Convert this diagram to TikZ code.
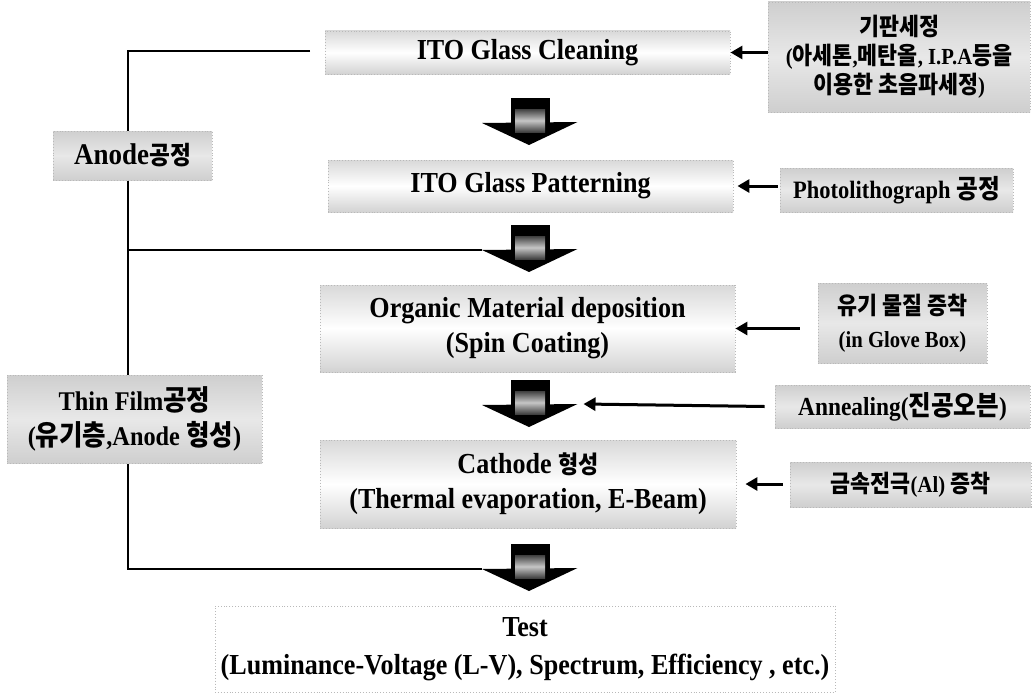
\documentclass[tikz,border=0pt]{standalone}
\usepackage{fontspec}
\usepackage{graphicx}
\setmainfont{Liberation Serif}[FakeStretch=0.9]
\newfontfamily\krfont{Noto Sans CJK KR}[FakeStretch=0.9,Scale=0.84]
\newfontfamily\krfontb{Noto Sans CJK KR}[FakeStretch=0.9,Scale=1.05]
\newcommand\KR[1]{{\krfont\bfseries #1}}
\newcommand\KRb[1]{{\krfontb\bfseries #1}}
\newcommand\setfs[2]{\fontsize{#1}{#2}\selectfont}
\usetikzlibrary{arrows.meta}
\tikzset{
  mainbox/.style={draw=gray!55, dotted, line width=0.9pt, top color=gray!30, bottom color=gray!35, middle color=white,
    align=center, inner sep=0pt, font=\setfs{29}{35}\bfseries},
  sidebox/.style={draw=gray!55, dotted, line width=0.9pt, top color=gray!38, bottom color=gray!38, middle color=gray!18,
    align=center, inner sep=0pt},
  testbox/.style={draw=gray!55, dotted, line width=0.9pt, fill=white, align=center, inner sep=0pt, font=\setfs{29}{38}\bfseries},
  bracket/.style={line width=2pt, black},
  sarr/.style={line width=3pt, black, -{Triangle[length=12pt,width=13pt]}},
  blockarr/.pic={
    \fill[black] (-19.5,0) rectangle (19.5,26);
    \fill[black] (-48,25) -- (47.5,24) -- (-1,47) -- cycle;
    \shade[top color=black!75, bottom color=black!75, middle color=gray!45] (-15,11) rectangle (15,34);
    \coordinate (-hl) at (-48,25);
    \coordinate (-hr) at (47.5,24);
  }
}
\begin{document}
\begin{tikzpicture}[x=1pt,y=-1pt]
\useasboundingbox (0,0) rectangle (1033,693);
\fill[white] (0,0) rectangle (1033,693);

% block arrows between process steps
\pic (arr1) at (530,98) {blockarr};
\pic (arr2) at (530,225) {blockarr};
\pic (arr3) at (530,380) {blockarr};
\pic (arr4) at (530,544) {blockarr};

% bracket
\coordinate (b1) at (310,51);
\coordinate (b2) at (128,51);
\coordinate (b3) at (b2 |- arr2-hl);
\coordinate (b5) at (b2 |- arr4-hl);
\draw[bracket] (b1) -- (b2) -- (b5) -- (arr4-hl);
\draw[bracket] (b3) -- (arr2-hl);

% main process boxes
\node[mainbox, minimum width=405pt, minimum height=43pt] (clean) at (527.5,52.5) {ITO Glass Cleaning};
\node[mainbox, minimum width=405pt, minimum height=52pt] (pattern) at (530.5,186) {ITO Glass Patterning};
\node[mainbox, minimum width=415pt, minimum height=87pt] (organic) at (527.5,328.5) {Organic Material deposition\\(Spin Coating)};
\node[mainbox, minimum width=416pt, minimum height=88pt] (cathode) at (528,484) {Cathode \KR{형성}\\(Thermal evaporation, E-Beam)};
\node[testbox, minimum width=620pt, minimum height=86pt] (test) at (525,649) {Test\\(Luminance-Voltage (L-V), Spectrum, Efficiency , etc.)};

% left group labels
\node[sidebox, minimum width=159pt, minimum height=49pt, font=\setfs{30}{34}\bfseries] (anode) at (132.5,155.5) {Anode\KR{공정}};
\node[sidebox, minimum width=255pt, minimum height=88pt, font=\setfs{27}{35}\bfseries] (thin) at (134.5,419) {Thin Film\KRb{공정}\\(\KRb{유기층},Anode \KRb{형성})};

% right side labels
\node[sidebox, minimum width=262pt, minimum height=110pt, font=\setfs{23}{29}\bfseries] (kiban) at (899,57) {\KRb{기판세정}\\(\KRb{아세톤},\KRb{메탄올}, I.P.A\KRb{등을}\\\KRb{이용한 초음파세정})};
\node[sidebox, minimum width=233pt, minimum height=44pt, font=\setfs{25}{28}\bfseries] (photo) at (896.5,190) {Photolithograph \KRb{공정}};
\node[sidebox, minimum width=169pt, minimum height=80pt, font=\setfs{23}{33}\bfseries] (yugi) at (902.5,323) {\KRb{유기 물질 증착}\\(in Glove Box)};
\node[sidebox, minimum width=255pt, minimum height=43pt, font=\setfs{26}{30}\bfseries] (anneal) at (902.5,406.5) {Annealing(\KRb{진공오븐})};
\node[sidebox, minimum width=241pt, minimum height=45pt, font=\setfs{23}{28}\bfseries] (metal) at (910.5,484.5) {\KRb{금속전극}(Al) \KRb{증착}};

% side arrows
\coordinate (annTip) at ([xshift=6pt]arr3-hr);
\draw[sarr] (kiban.west |- clean.east) -- (clean.east);
\draw[sarr] ([xshift=-2pt]photo.west |- pattern.east) -- ([xshift=4pt]pattern.east);
\draw[sarr] ([xshift=-18pt]yugi.west |- organic.east) -- (organic.east);
\draw[sarr] ([xshift=-10pt]anneal.west) -- (annTip);
\draw[sarr] ([xshift=-7pt]metal.west |- cathode.east) -- ([xshift=9pt]cathode.east);
\end{tikzpicture}
\end{document}
